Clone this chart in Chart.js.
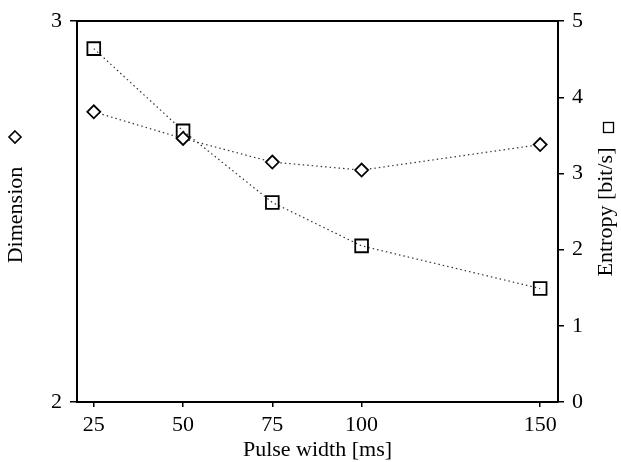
<!DOCTYPE html>
<html>
<head>
<meta charset="utf-8">
<script src="https://cdn.jsdelivr.net/npm/chart.js@4/dist/chart.umd.min.js"></script>
<style>
html,body{margin:0;padding:0;background:#fff;}
#wrap{width:621px;height:462px;position:relative;}
</style>
</head>
<body>
<div id="wrap"><canvas id="c" width="621" height="462"></canvas></div>
<script>
const pulseWidths = [25, 50, 75, 100, 150];
const dimensionValues = [2.762, 2.692, 2.630, 2.609, 2.676];
const entropyValues = [4.64, 3.56, 2.62, 2.05, 1.49];
const xTickValues = [25, 50, 75, 100, 150];
const leftTickValues = [2, 3];
const rightTickValues = [0, 1, 2, 3, 4, 5];
const xTitle = 'Pulse width [ms]';
const leftTitle = 'Dimension';
const rightTitle = 'Entropy [bit/s]';

const FONT = '"Liberation Serif", "Times New Roman", serif';
const fontSize = 22;

const titlesPlugin = {
  id: 'titles',
  afterDraw(chart) {
    const ctx = chart.ctx;
    const area = chart.chartArea;
    ctx.save();
    ctx.fillStyle = '#000';
    ctx.strokeStyle = '#000';
    ctx.font = fontSize + 'px ' + FONT;
    ctx.textAlign = 'center';
    ctx.textBaseline = 'middle';
    ctx.fillText(xTitle, (area.left + area.right) / 2, 450);
    ctx.save();
    ctx.translate(16, 215);
    ctx.rotate(-Math.PI / 2);
    ctx.fillText(leftTitle, 0, 0);
    ctx.restore();
    ctx.lineWidth = 1.6;
    ctx.beginPath();
    ctx.moveTo(15, 131); ctx.lineTo(21, 137); ctx.lineTo(15, 143); ctx.lineTo(9, 137); ctx.closePath();
    ctx.stroke();
    ctx.save();
    ctx.translate(606, 212);
    ctx.rotate(-Math.PI / 2);
    ctx.fillText(rightTitle, 0, 0);
    ctx.restore();
    ctx.lineWidth = 1.3;
    ctx.strokeRect(603.5, 122.5, 10, 10);
    ctx.restore();
  }
};

new Chart(document.getElementById('c'), {
  type: 'line',
  data: {
    datasets: [
      {
        label: 'Dimension',
        data: pulseWidths.map((x, i) => ({x: x, y: dimensionValues[i]})),
        yAxisID: 'y',
        borderColor: '#333',
        borderWidth: 1.2,
        borderDash: [1.5, 3],
        pointStyle: 'rectRot',
        pointRadius: 6.5,
        pointBorderWidth: 1.8,
        pointBackgroundColor: '#fff',
        pointBorderColor: '#000',
        fill: false,
        tension: 0
      },
      {
        label: 'Entropy',
        data: pulseWidths.map((x, i) => ({x: x, y: entropyValues[i]})),
        yAxisID: 'y2',
        borderColor: '#333',
        borderWidth: 1.2,
        borderDash: [1.5, 3],
        pointStyle: 'rect',
        pointRadius: 9,
        pointBorderWidth: 1.8,
        pointBackgroundColor: 'rgba(255,255,255,0)',
        pointBorderColor: '#000',
        fill: false,
        tension: 0
      }
    ]
  },
  options: {
    responsive: false,
    animation: false,
    layout: {padding: {top: 16, left: 0, right: 0, bottom: 0}},
    plugins: {legend: {display: false}, tooltip: {enabled: false}},
    scales: {
      x: {
        type: 'linear',
        position: 'bottom',
        min: 20.3,
        max: 155,
        afterBuildTicks: s => { s.ticks = xTickValues.map(v => ({value: v})); },
        afterFit: s => { s.height = 60; },
        ticks: {color: '#000', font: {family: FONT, size: fontSize}, padding: 5, maxRotation: 0, autoSkip: false},
        grid: {display: true, drawOnChartArea: false, drawTicks: true, tickLength: 5, color: '#000', lineWidth: 1.5},
        border: {display: true, color: '#000', width: 2}
      },
      xTop: {
        type: 'linear',
        position: 'top',
        min: 20.3,
        max: 155,
        afterFit: s => { s.height = 0; },
        ticks: {display: false},
        grid: {display: false},
        border: {display: true, color: '#000', width: 2}
      },
      y: {
        type: 'linear',
        position: 'left',
        min: 2,
        max: 3,
        afterBuildTicks: s => { s.ticks = leftTickValues.map(v => ({value: v})); },
        afterFit: s => { s.width = 77; },
        ticks: {color: '#000', font: {family: FONT, size: fontSize}, padding: 8},
        grid: {display: true, drawOnChartArea: false, tickLength: 7, color: '#000', lineWidth: 1.5},
        border: {display: true, color: '#000', width: 2}
      },
      y2: {
        type: 'linear',
        position: 'right',
        min: 0,
        max: 5,
        afterBuildTicks: s => { s.ticks = rightTickValues.map(v => ({value: v})); },
        afterFit: s => { s.width = 63; },
        ticks: {color: '#000', font: {family: FONT, size: fontSize}, padding: 8},
        grid: {display: true, drawOnChartArea: false, tickLength: 6, color: '#000', lineWidth: 1.5},
        border: {display: true, color: '#000', width: 2}
      }
    }
  },
  plugins: [titlesPlugin]
});
</script>
</body>
</html>
